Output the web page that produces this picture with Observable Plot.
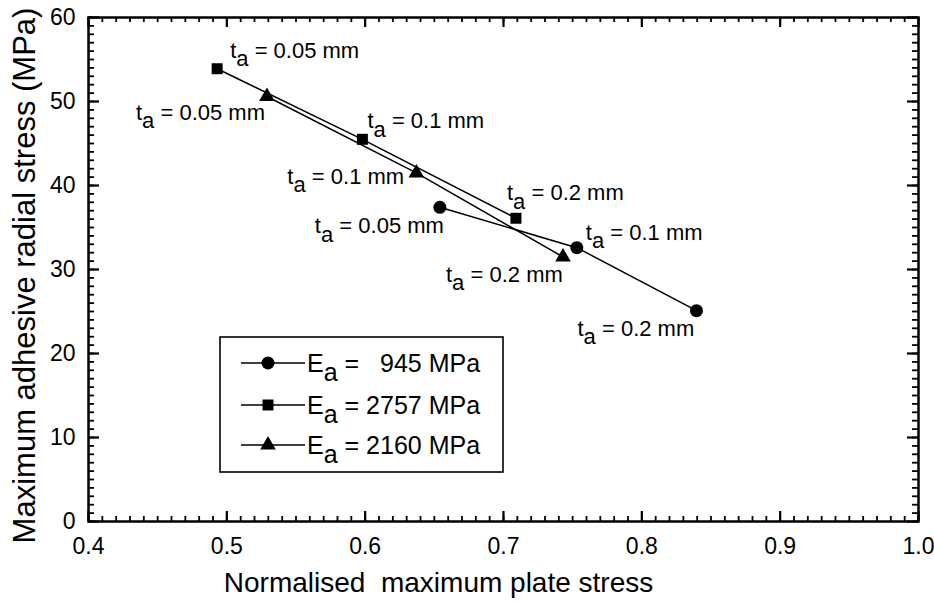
<!DOCTYPE html>
<html><head><meta charset="utf-8">
<script src="https://cdn.jsdelivr.net/npm/d3@7"></script>
<script src="https://cdn.jsdelivr.net/npm/@observablehq/plot@0.6"></script>
<style>body{margin:0;background:#fff;}</style>
</head><body><div id="chart"></div>
<script>
// ---- data ----
const thicknessLabels = ["t_a = 0.05 mm", "t_a = 0.1 mm", "t_a = 0.2 mm"];
const seriesNames = ["E_a =   945 MPa", "E_a = 2757 MPa", "E_a = 2160 MPa"];
const seriesSymbols = ["circle", "square", "triangle"];
const x945 = [0.654, 0.753, 0.8395];
const y945 = [37.4, 32.6, 25.1];
const x2757 = [0.493, 0.598, 0.709];
const y2757 = [53.9, 45.5, 36.1];
const x2160 = [0.529, 0.637, 0.743];
const y2160 = [50.6, 41.5, 31.5];
const xTicks = [0.4, 0.5, 0.6, 0.7, 0.8, 0.9, 1.0];
const xTickLabels = ["0.4", "0.5", "0.6", "0.7", "0.8", "0.9", "1.0"];
const yTicks = [0, 10, 20, 30, 40, 50, 60];
const yTickLabels = ["0", "10", "20", "30", "40", "50", "60"];
const xTitle = "Normalised  maximum plate stress";
const yTitle = "Maximum adhesive radial stress (MPa)";

// ---- layout ----
const W = 934, H = 605, ML = 88, MR = 16, MT = 17, MB = 84;
const FONT = "Liberation Sans, Arial, Helvetica, sans-serif";
const labelOffsets = {
  "945":  {dx: [-125, 9, -119],  dy: [19, -15, 18]},
  "2757": {dx: [13, 5, -9],      dy: [-18, -18, -25]},
  "2160": {dx: [-131, -129, -117], dy: [16, 4, 18]}
};
const symbolR = {circle: 6.5, square: 6.2, triangle: 5.8};

const seriesKeys = ["945", "2757", "2160"];
const seriesX = [x945, x2757, x2160];
const seriesY = [y945, y2757, y2160];
const rows = [];
seriesKeys.forEach((k, s) => {
  seriesX[s].forEach((xv, i) => rows.push({
    series: k, symbol: seriesSymbols[s], x: xv, y: seriesY[s][i],
    label: thicknessLabels[i], dx: labelOffsets[k].dx[i], dy: labelOffsets[k].dy[i]
  }));
});

const xMinor = [];
for (let v = 40; v <= 100; v++) xMinor.push(v / 100);
const yMinor = [];
for (let v = 0; v <= 60; v++) yMinor.push(v);

const marks = [
  Plot.frame({stroke: "black", strokeWidth: 2.5}),
  // inward ticks: Plot.tickX / tickY spanning the frame, trimmed with insets
  Plot.tickX(xMinor, {x: d => d, stroke: "black", strokeWidth: 1.8, insetTop: 499}),
  Plot.tickX(xMinor, {x: d => d, stroke: "black", strokeWidth: 1.8, insetBottom: 499}),
  Plot.tickX(xTicks, {x: d => d, stroke: "black", strokeWidth: 2.2, insetTop: 494}),
  Plot.tickX(xTicks, {x: d => d, stroke: "black", strokeWidth: 2.2, insetBottom: 494}),
  Plot.tickY(yMinor, {y: d => d, stroke: "black", strokeWidth: 1.8, insetRight: 824}),
  Plot.tickY(yMinor, {y: d => d, stroke: "black", strokeWidth: 1.8, insetLeft: 824}),
  Plot.tickY(yTicks, {y: d => d, stroke: "black", strokeWidth: 2.2, insetRight: 819}),
  Plot.tickY(yTicks, {y: d => d, stroke: "black", strokeWidth: 2.2, insetLeft: 819}),
  Plot.text(xTicks, {x: d => d, frameAnchor: "bottom", dy: 25, text: (d, i) => xTickLabels[i],
    textAnchor: "middle", lineAnchor: "middle", fontSize: 23, fill: "black"}),
  Plot.text(yTicks, {y: d => d, frameAnchor: "left", dx: -13, text: (d, i) => yTickLabels[i],
    textAnchor: "end", lineAnchor: "middle", fontSize: 23, fill: "black"}),
  Plot.line(rows, {x: "x", y: "y", z: "series", stroke: "black", strokeWidth: 1.5}),
  ...seriesKeys.map((k, s) => Plot.dot(rows.filter(r => r.series === k), {
    x: "x", y: "y", symbol: seriesSymbols[s], r: symbolR[seriesSymbols[s]], fill: "black", stroke: "none"
  })),
  ...rows.map(r => Plot.text([r], {
    x: "x", y: "y", text: "label", dx: r.dx, dy: r.dy,
    textAnchor: "start", lineAnchor: "middle", fontSize: 22, fill: "black"
  })),
  Plot.text([xTitle], {text: d => d, frameAnchor: "bottom-left", dx: 350, dy: 62, textAnchor: "middle", lineAnchor: "middle", fontSize: 28, fill: "black"}),
  Plot.text([yTitle], {text: d => d, frameAnchor: "left", dx: -63, dy: 6, rotate: -90, textAnchor: "middle", lineAnchor: "middle", fontSize: 31, fill: "black"})
];

const chart = Plot.plot({
  width: W, height: H,
  marginLeft: ML, marginRight: MR, marginTop: MT, marginBottom: MB,
  x: {domain: [0.4, 1.0], axis: null},
  y: {domain: [0, 60], axis: null},
  style: {fontFamily: FONT},
  marks
});
document.getElementById("chart").appendChild(chart);

const svg = d3.select(chart);

// ---- legend ----
const lg = svg.append("g").attr("class", "legend").attr("text-anchor", "start");
lg.append("rect").attr("x", 220).attr("y", 337).attr("width", 283).attr("height", 135)
  .attr("fill", "white").attr("stroke", "black").attr("stroke-width", 1.6);
const legendY = [363, 405, 445];
const symMap = {circle: d3.symbolCircle, square: d3.symbolSquare, triangle: d3.symbolTriangle};
seriesNames.forEach((name, s) => {
  const yy = legendY[s];
  lg.append("line").attr("x1", 241).attr("x2", 305).attr("y1", yy).attr("y2", yy)
    .attr("stroke", "black").attr("stroke-width", 1.5);
  const rr = symbolR[seriesSymbols[s]];
  lg.append("path").attr("transform", `translate(268,${yy})`)
    .attr("d", d3.symbol(symMap[seriesSymbols[s]], Math.PI * rr * rr)()).attr("fill", "black");
  lg.append("text").attr("x", 307).attr("y", yy).attr("dy", "0.35em")
    .attr("text-anchor", "start").attr("font-size", 25).attr("font-family", FONT).text(name);
});

// ---- subscripts: "t_a" -> t with subscript a ----
svg.selectAll("text").each(function() {
  const el = d3.select(this);
  if (!el.selectAll("tspan").empty()) return;
  const t = el.text();
  const idx = t.indexOf("_a");
  if (idx < 0) return;
  const before = t.slice(0, idx), after = t.slice(idx + 2);
  el.text(null).style("white-space", "pre");
  el.append("tspan").text(before);
  el.append("tspan").attr("dy", "0.38em").text("a");
  el.append("tspan").attr("dy", "-0.38em").text(after);
});
</script></body></html>
